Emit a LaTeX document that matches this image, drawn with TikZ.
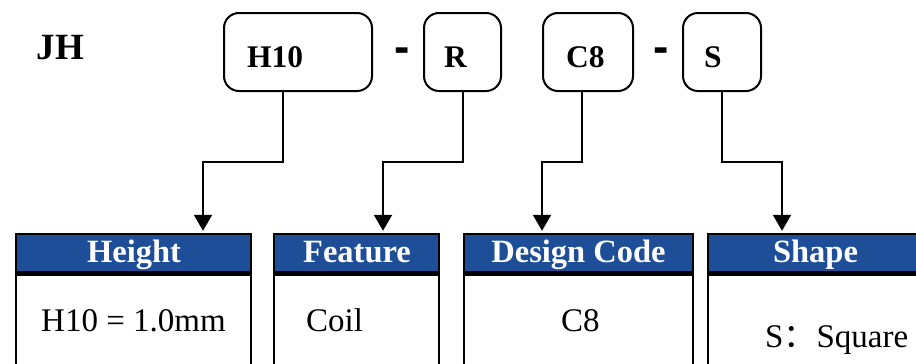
\documentclass[tikz,border=0pt]{standalone}
\usepackage{fontspec}
\setmainfont{Liberation Serif}
\newfontfamily\cjkfont{Noto Sans CJK SC}
\newfontfamily\dashfont{Liberation Sans}
\usetikzlibrary{arrows.meta,calc}
\definecolor{hdblue}{RGB}{31,78,152}
\tikzset{
  codebox/.style={draw, line width=2pt, rounded corners=15pt, minimum height=78, inner sep=0},
  headbox/.style={draw, line width=2.4pt, fill=hdblue, minimum height=38, inner sep=0},
  bodybox/.style={draw, line width=2.4pt, minimum height=98, inner sep=0},
  codetext/.style={font=\bfseries\fontsize{31.5}{36}\selectfont, inner sep=0, anchor=base west},
  headtext/.style={font=\bfseries\fontsize{32.5}{38}\selectfont, text=white, inner sep=0, anchor=base},
  bodytext/.style={font=\fontsize{33}{38}\selectfont, inner sep=0, anchor=base west},
  dashtext/.style={font=\dashfont\bfseries\fontsize{46}{50}\selectfont, inner sep=0, anchor=base},
  conn/.style={line width=2pt, -{Triangle[width=18pt,length=16pt]}, shorten >=2pt},
}
\begin{document}
\begin{tikzpicture}[x=1pt,y=-1pt]
\useasboundingbox (0,0) rectangle (916,364);
\clip (0,0) rectangle (916,364);
% title
\node[font=\bfseries\fontsize{37}{42}\selectfont, inner sep=0, anchor=base west] (jh) at (36.5,59) {JH};
% code boxes
\node[codebox, minimum width=148] (h10) at (298,52) {};
\node[codebox, minimum width=77] (r) at (462.5,52) {};
\node[codebox, minimum width=90] (c8) at (588,52) {};
\node[codebox, minimum width=78] (s) at (722,52) {};
\node[codetext] (h10t) at (247,67.5) {H10};
\node[codetext] (rt) at (444,67.5) {R};
\node[codetext] (c8t) at (566,67.5) {C8};
\node[codetext] (st) at (704,67.5) {S};
% dashes
\node[dashtext] (d1) at (402,62) {-};
\node[dashtext] (d2) at (661,62) {-};
% headers
\node[headbox, minimum width=235] (hd1) at (133.5,253) {};
\node[headbox, minimum width=165] (hd2) at (356.5,253) {};
\node[headbox, minimum width=229] (hd3) at (578.5,253) {};
\node[headbox, minimum width=214] (hd4) at (815,253) {};
\node[headtext] at (134,262) {Height};
\node[headtext] at (357,262) {Feature};
\node[headtext] at (578.5,262) {Design Code};
\node[headtext] at (815.5,262) {Shape};
% bodies
\node[bodybox, minimum width=235, anchor=north] (b1) at (hd1.south) {};
\node[bodybox, minimum width=165, anchor=north] (b2) at (hd2.south) {};
\node[bodybox, minimum width=229, anchor=north] (b3) at (hd3.south) {};
\node[bodybox, minimum width=214, anchor=north] (b4) at (hd4.south) {};
\node[bodytext] (t1) at (41,331) {H10 = 1.0mm};
\node[bodytext] (t2) at (306,331) {Coil};
\node[bodytext] (t3) at (561,331) {C8};
\node[bodytext] (t4) at (765,347) {S\cjkfont ：\rmfamily Square};
% connectors
\draw[conn] ($(h10.south)+(-15,0)$) -- ++(0,70) -| ($(hd1.north)+(69.5,0)$);
\draw[conn] ($(r.south)+(0.5,0)$) -- ++(0,70) -| ($(hd2.north)+(26.5,0)$);
\draw[conn] ($(c8.south)+(-6,0)$) -- ++(0,70) -| ($(hd3.north)+(-36.5,0)$);
\draw[conn] (s.south) -- ++(0,70) -| ($(hd4.north)+(-33,0)$);
\end{tikzpicture}
\end{document}
